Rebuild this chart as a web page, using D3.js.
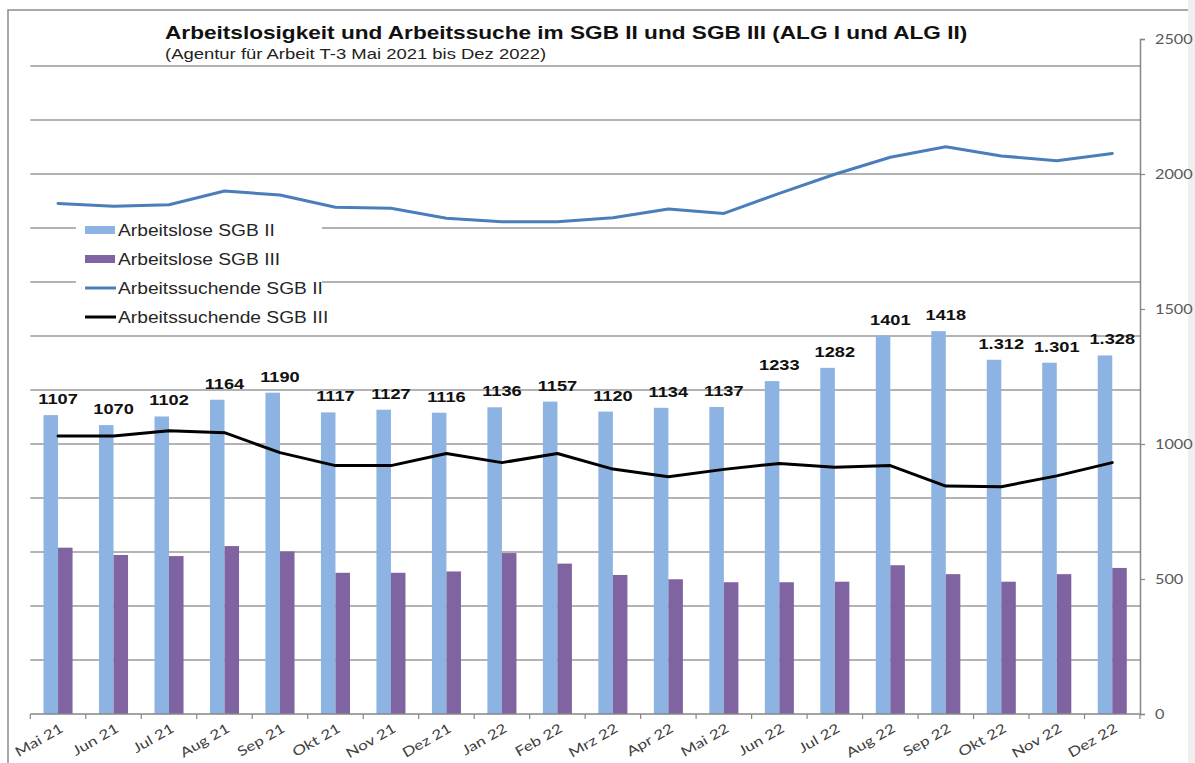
<!DOCTYPE html>
<html>
<head>
<meta charset="utf-8">
<script src="https://cdn.jsdelivr.net/npm/d3@7"></script>
<style>
  html, body { margin: 0; padding: 0; background: #ffffff; }
  svg { display: block; }
</style>
</head>
<body>
<div id="chart"></div>
<script>
// Monate (Kategorien)
const months = ["Mai 21", "Jun 21", "Jul 21", "Aug 21", "Sep 21", "Okt 21", "Nov 21", "Dez 21",
  "Jan 22", "Feb 22", "Mrz 22", "Apr 22", "Mai 22", "Jun 22", "Jul 22", "Aug 22",
  "Sep 22", "Okt 22", "Nov 22", "Dez 22"];

// Arbeitslose SGB II (Balken, hellblau)
const alSGB2 = [1107, 1070, 1102, 1164, 1190, 1117, 1127, 1116, 1136, 1157,
  1120, 1134, 1137, 1233, 1282, 1401, 1418, 1312, 1301, 1328];
// Beschriftungen wie im Original (letzte drei mit Punkt)
const alSGB2Labels = ["1107", "1070", "1102", "1164", "1190", "1117", "1127", "1116", "1136", "1157",
  "1120", "1134", "1137", "1233", "1282", "1401", "1418", "1.312", "1.301", "1.328"];

// Arbeitslose SGB III (Balken, lila) - geschaetzt
const alSGB3 = [616, 589, 585, 622, 602, 523, 523, 528, 596, 557,
  515, 499, 488, 488, 490, 551, 518, 490, 518, 541];

// Arbeitssuchende SGB II (Linie, blau) - geschaetzt
const asSGB2 = [1891, 1881, 1886, 1937, 1922, 1877, 1873, 1836, 1823, 1823,
  1838, 1870, 1854, 1928, 1999, 2062, 2101, 2067, 2049, 2076];

// Arbeitssuchende SGB III (Linie, schwarz) - geschaetzt
const asSGB3 = [1030, 1030, 1049, 1042, 968, 920, 920, 965, 931, 965,
  907, 879, 906, 928, 914, 920, 844, 842, 882, 931];

const yTicks = [0, 500, 1000, 1500, 2000, 2500];
const gridValues = [200, 400, 600, 800, 1000, 1200, 1400, 1600, 1800, 2000, 2200, 2400];

const titleText = "Arbeitslosigkeit und Arbeitssuche im SGB II und SGB III (ALG I und ALG II)";
const subtitleText = "(Agentur für Arbeit T-3 Mai 2021 bis Dez 2022)";

const legendItems = [
  { name: "Arbeitslose SGB II", type: "bar", color: "#8DB3E2" },
  { name: "Arbeitslose SGB III", type: "bar", color: "#8064A2" },
  { name: "Arbeitssuchende SGB II", type: "line", color: "#4A7EBB" },
  { name: "Arbeitssuchende SGB III", type: "line", color: "#000000" }
];

const width = 1195, height = 763;
const plot = { left: 30.3, right: 1140, top: 39, bottom: 714 };
const sans = "Liberation Sans, Arial, sans-serif";
const axisFont = "Lato, Carlito, sans-serif";

// the original picture is stretched sideways, so widen text a bit
function stretch(sel, factor) {
  sel.each(function () {
    const len = this.getComputedTextLength();
    d3.select(this)
      .attr("textLength", len * factor)
      .attr("lengthAdjust", "spacingAndGlyphs");
  });
}

const svg = d3.select("#chart").append("svg")
  .attr("width", width)
  .attr("height", height);

// Rahmen
svg.append("rect")
  .attr("x", 1188).attr("y", 0).attr("width", width - 1188).attr("height", height)
  .attr("fill", "#efefef");
svg.append("path")
  .attr("d", `M8,${height} L8,10 L1188,10`)
  .attr("fill", "none")
  .attr("stroke", "#8c8c8c")
  .attr("stroke-width", 1.5);

const x = d3.scaleBand()
  .domain(months)
  .range([plot.left, plot.right])
  .paddingInner(0)
  .paddingOuter(0);

const xInner = d3.scaleBand()
  .domain(["sgb2", "sgb3"])
  .range([0, x.bandwidth()])
  .paddingInner(0)
  .paddingOuter(0.91);

const y = d3.scaleLinear()
  .domain([0, 2500])
  .range([plot.bottom, plot.top]);

// Gitternetzlinien
svg.append("g")
  .selectAll("line")
  .data(gridValues)
  .join("line")
  .attr("x1", plot.left)
  .attr("x2", plot.right)
  .attr("y1", d => y(d))
  .attr("y2", d => y(d))
  .attr("stroke", "#9a9a9a")
  .attr("stroke-width", 1.6);

// Balken
const barGroup = svg.append("g");
barGroup.selectAll(".bar2")
  .data(alSGB2)
  .join("rect")
  .attr("class", "bar2")
  .attr("x", (d, i) => x(months[i]) + xInner("sgb2"))
  .attr("y", d => y(d))
  .attr("width", xInner.bandwidth())
  .attr("height", d => y(0) - y(d))
  .attr("fill", "#8DB3E2");

barGroup.selectAll(".bar3")
  .data(alSGB3)
  .join("rect")
  .attr("class", "bar3")
  .attr("x", (d, i) => x(months[i]) + xInner("sgb3"))
  .attr("y", d => y(d))
  .attr("width", xInner.bandwidth())
  .attr("height", d => y(0) - y(d))
  .attr("fill", "#8064A2");

// Linien
const cx = i => x(months[i]) + x.bandwidth() / 2;
const line = d3.line()
  .x((d, i) => cx(i))
  .y(d => y(d));

svg.append("path")
  .datum(asSGB2)
  .attr("d", line)
  .attr("fill", "none")
  .attr("stroke", "#4A7EBB")
  .attr("stroke-width", 3)
  .attr("stroke-linejoin", "round")
  .attr("stroke-linecap", "round");

svg.append("path")
  .datum(asSGB3)
  .attr("d", line)
  .attr("fill", "none")
  .attr("stroke", "#000000")
  .attr("stroke-width", 3)
  .attr("stroke-linejoin", "round")
  .attr("stroke-linecap", "round");

// Datenbeschriftungen
svg.append("g")
  .selectAll("text")
  .data(alSGB2)
  .join("text")
  .attr("x", (d, i) => cx(i))
  .attr("y", d => y(d) - 11)
  .attr("text-anchor", "middle")
  .attr("font-family", sans)
  .attr("font-weight", "bold")
  .attr("font-size", 14)
  .attr("fill", "#111111")
  .text((d, i) => alSGB2Labels[i])
  .call(stretch, 1.3);

// X-Achse
const xAxis = svg.append("g")
  .attr("transform", `translate(0,${plot.bottom})`);
xAxis.append("line")
  .attr("x1", plot.left).attr("x2", plot.right)
  .attr("stroke", "#868686").attr("stroke-width", 1.5);
xAxis.selectAll(".tick")
  .data(d3.range(months.length + 1))
  .join("line")
  .attr("class", "tick")
  .attr("x1", i => plot.left + i * x.step())
  .attr("x2", i => plot.left + i * x.step())
  .attr("y1", 0).attr("y2", 5)
  .attr("stroke", "#868686").attr("stroke-width", 1.2);
xAxis.selectAll(".lbl")
  .data(months)
  .join("text")
  .attr("class", "lbl")
  .attr("transform", d => `translate(${x(d) + x.bandwidth() / 2 + 6},${17}) rotate(-30)`)
  .attr("text-anchor", "end")
  .attr("font-family", axisFont)
  .attr("font-size", 13.5)
  .attr("fill", "#404040")
  .text(d => d)
  .call(stretch, 1.27);

// Y-Achse rechts
const yAxis = svg.append("g")
  .attr("transform", `translate(${plot.right},0)`)
  .call(d3.axisRight(y).tickValues(yTicks).tickSize(5).tickPadding(10).tickFormat(d3.format("d")));
yAxis.select(".domain").attr("stroke", "#868686").attr("stroke-width", 1.5);
yAxis.selectAll(".tick line").attr("stroke", "#868686").attr("stroke-width", 1.2);
yAxis.selectAll(".tick text")
  .attr("font-family", axisFont)
  .attr("font-size", 13)
  .attr("fill", "#595959")
  .call(stretch, 1.25);

// Titel
svg.append("text")
  .attr("x", 165).attr("y", 39)
  .attr("font-family", sans)
  .attr("font-weight", "bold")
  .attr("font-size", 19)
  .attr("fill", "#111111")
  .text(titleText)
  .call(stretch, 1.19);
svg.append("text")
  .attr("x", 165).attr("y", 59)
  .attr("font-family", sans)
  .attr("font-size", 15)
  .attr("fill", "#222222")
  .text(subtitleText)
  .call(stretch, 1.23);

// Legende
const legend = svg.append("g");
legend.append("rect")
  .attr("x", 76).attr("y", 214).attr("width", 246).attr("height", 116)
  .attr("fill", "#ffffff");
const rows = legend.selectAll(".row")
  .data(legendItems)
  .join("g")
  .attr("class", "row")
  .attr("transform", (d, i) => `translate(85,${230 + i * 29})`);
rows.filter(d => d.type === "bar")
  .append("rect")
  .attr("x", 0).attr("y", -4).attr("width", 30).attr("height", 8)
  .attr("fill", d => d.color);
rows.filter(d => d.type === "line")
  .append("line")
  .attr("x1", 0).attr("x2", 31).attr("y1", 0).attr("y2", 0)
  .attr("stroke", d => d.color).attr("stroke-width", 3);
rows.append("text")
  .attr("x", 33).attr("y", 6)
  .attr("font-family", sans)
  .attr("font-size", 16)
  .attr("fill", "#262626")
  .text(d => d.name)
  .call(stretch, 1.2);
</script>
</body>
</html>
